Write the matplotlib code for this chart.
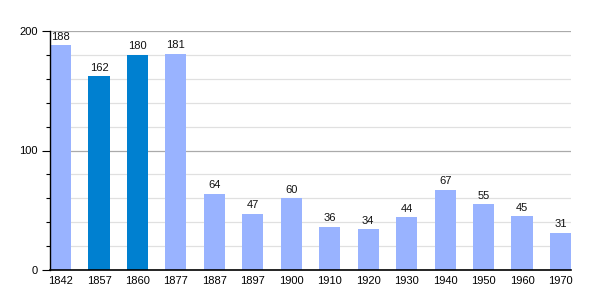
import numpy as np
import matplotlib
matplotlib.use("Agg")
import matplotlib.pyplot as plt

years = ['1842', '1857', '1860', '1877', '1887', '1897', '1900',
         '1910', '1920', '1930', '1940', '1950', '1960', '1970']
population = [188, 162, 180, 181, 64, 47, 60, 36, 34, 44, 67, 55, 45, 31]
highlight = ['1857', '1860']

light = '#99b3ff'
dark = '#0080d0'

plt.rcParams['font.family'] = ['Liberation Sans', 'DejaVu Sans']

fig = plt.figure(figsize=(6, 3), dpi=100)
ax = fig.add_axes([50/600, 30/300, 521/600, 239/300])

x = np.arange(len(years))
colors = [dark if y in highlight else light for y in years]

# grid lines
for v in range(20, 201, 20):
    if v % 100 == 0:
        ax.axhline(v, color='#aaaaaa', lw=0.9, zorder=0)
    else:
        ax.axhline(v, color='#e0e0e0', lw=0.9, zorder=0)

ax.bar(x, population, width=0.55, color=colors, zorder=2)
for xi, v in zip(x, population):
    ax.text(xi, v + 3, str(v), ha='center', va='bottom', fontsize=8, color='#111111')

ax.set_xlim(-0.275, len(years) - 1 + 0.275)
ax.set_ylim(0, 200)
ax.set_xticks(x)
ax.set_xticklabels(years, fontsize=8)
ax.tick_params(axis='x', length=0, pad=4)
ax.set_yticks([0, 100, 200])
ax.set_yticklabels(['0', '100', '200'], fontsize=8)
ax.set_yticks(range(20, 200, 20), minor=True)
ax.tick_params(axis='y', which='major', length=6, width=0.8, pad=3)
ax.tick_params(axis='y', which='minor', length=3, width=0.8)

for s in ['top', 'right']:
    ax.spines[s].set_visible(False)
ax.spines['left'].set_linewidth(1.0)
ax.spines['bottom'].set_linewidth(1.2)

fig.savefig('out.png', dpi=100)
